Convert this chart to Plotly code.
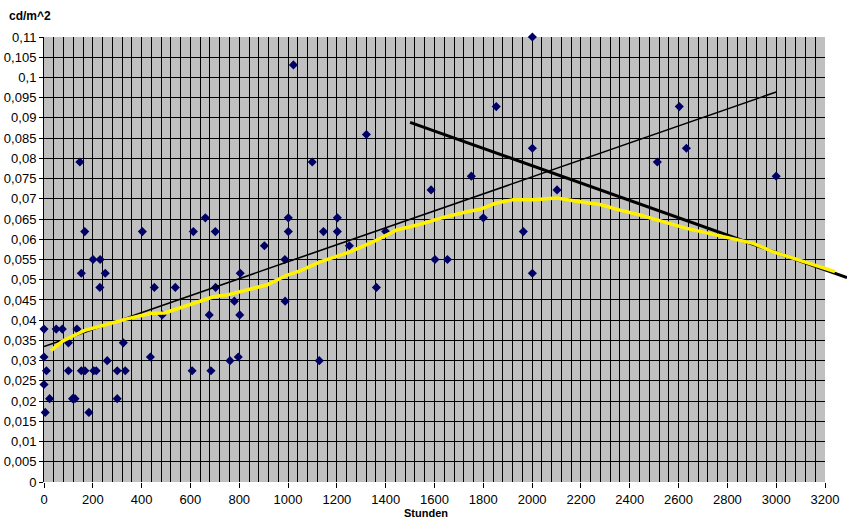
import plotly.graph_objects as go

# Measured points (Stunden, cd/m^2)
hours = [0, 0, 0, 10, 5, 23, 50, 75, 100, 100, 117, 127, 135, 147, 153, 153, 167, 168, 184,
         201, 204, 214, 229, 230, 251, 259, 300, 300, 325, 333, 403, 436, 452, 484, 538,
         607, 612, 661, 677, 684, 702, 703, 762, 780, 796, 802, 804, 903, 987, 988, 1001,
         1001, 1022, 1099, 1128, 1145, 1202, 1202, 1251, 1321, 1362, 1400, 1586, 1602, 1653,
         1751, 1800, 1853, 1964, 2001, 2001, 2001, 2102, 2513, 2603, 2632, 3000]
lum = [0.0378, 0.0309, 0.0241, 0.0275, 0.0172, 0.0206, 0.0378, 0.0378, 0.0344, 0.0275,
       0.0206, 0.0206, 0.0378, 0.0791, 0.0516, 0.0275, 0.0619, 0.0275, 0.0172,
       0.0550, 0.0275, 0.0275, 0.0481, 0.0550, 0.0516, 0.0300, 0.0275, 0.0206, 0.0344,
       0.0275, 0.0619, 0.0309, 0.0481, 0.0413, 0.0481,
       0.0275, 0.0619, 0.0653, 0.0413, 0.0275, 0.0619, 0.0481, 0.0300, 0.0447, 0.0309,
       0.0413, 0.0516, 0.0584, 0.0550, 0.0447, 0.0653,
       0.0619, 0.1031, 0.0791, 0.0300, 0.0619, 0.0653, 0.0619, 0.0584, 0.0859, 0.0481,
       0.0619, 0.0722, 0.0550, 0.0550,
       0.0756, 0.0653, 0.0928, 0.0619, 0.1100, 0.0825, 0.0516, 0.0722, 0.0791, 0.0928,
       0.0825, 0.0756]

# Moving-average style curve (yellow)
avg_x = [28, 78, 112, 167, 249, 331, 440, 494, 580, 694, 748, 830, 912, 994, 1049, 1131,
         1254, 1363, 1445, 1541, 1636, 1732, 1786, 1850, 1923, 2005, 2101, 2196, 2278, 2360,
         2442, 2551, 2633, 2729, 2824, 2906, 2988, 3070, 3152, 3241]
avg_y = [0.0325, 0.0349, 0.0359, 0.0375, 0.0388, 0.0402, 0.0417, 0.0418, 0.0435, 0.0458,
         0.0462, 0.0474, 0.0487, 0.0511, 0.0522, 0.0544, 0.0569, 0.0598, 0.0623, 0.0637,
         0.0654, 0.0668, 0.0674, 0.0689, 0.0698, 0.0698, 0.0702, 0.0693, 0.0686, 0.0672,
         0.0660, 0.0641, 0.0627, 0.0614, 0.0600, 0.0590, 0.0569, 0.0553, 0.0536, 0.0520]

# Linear trend (thin black) and falling trend (thick black)
trend_x = [0, 3000]
trend_y = [0.0335, 0.0964]
fall_x = [1500, 3290]
fall_y = [0.0889, 0.0505]

y_tick_values = [0, 0.005, 0.01, 0.015, 0.02, 0.025, 0.03, 0.035, 0.04, 0.045, 0.05, 0.055,
                 0.06, 0.065, 0.07, 0.075, 0.08, 0.085, 0.09, 0.095, 0.1, 0.105, 0.11]
y_tick_labels = ["0", "0,005", "0,01", "0,015", "0,02", "0,025", "0,03", "0,035", "0,04",
                 "0,045", "0,05", "0,055", "0,06", "0,065", "0,07", "0,075", "0,08", "0,085",
                 "0,09", "0,095", "0,1", "0,105", "0,11"]

FONT = "Liberation Sans, Arial, sans-serif"
X_MAX = 3200
GRID_FRAC = 781 / 803          # grid area share of the full drawing width
X2_MAX = X_MAX / GRID_FRAC     # same scale, area extends past 3200

fig = go.Figure()
fig.add_trace(go.Scatter(x=hours, y=lum, mode="markers", xaxis="x2", yaxis="y2",
                         marker=dict(symbol="diamond", size=7, color="#000066"),
                         cliponaxis=False, showlegend=False))
fig.add_trace(go.Scatter(x=trend_x, y=trend_y, mode="lines", xaxis="x2", yaxis="y2",
                         line=dict(color="black", width=1.6), showlegend=False))
fig.add_trace(go.Scatter(x=fall_x, y=fall_y, mode="lines", xaxis="x2", yaxis="y2",
                         line=dict(color="black", width=3), showlegend=False))
fig.add_trace(go.Scatter(x=avg_x, y=avg_y, mode="lines", xaxis="x2", yaxis="y2",
                         line=dict(color="#FFF200", width=3.5), showlegend=False))

fig.update_layout(
    width=847, height=525,
    margin=dict(l=44, r=0, t=37, b=43),
    paper_bgcolor="white",
    plot_bgcolor="rgba(0,0,0,0)",
    separators=",.",
    font=dict(family=FONT, size=13, color="black"),
    xaxis=dict(domain=[0, GRID_FRAC], range=[0, X_MAX], tick0=0, dtick=200, showgrid=True,
               gridcolor="black", gridwidth=1, zeroline=False, showline=False,
               ticks="outside", ticklen=5, tickcolor="black", automargin=False,
               minor=dict(dtick=40, showgrid=True, gridcolor="black", gridwidth=1),
               anchor="y"),
    yaxis=dict(range=[0, 0.11], tickvals=y_tick_values, ticktext=y_tick_labels,
               showgrid=True, gridcolor="black", gridwidth=1, zeroline=False,
               showline=True, linecolor="black", linewidth=1, ticks="outside", ticklen=4,
               tickcolor="black", automargin=False, anchor="x"),
    xaxis2=dict(domain=[0, 1], range=[0, X2_MAX], visible=False, showgrid=False,
                zeroline=False, anchor="y2"),
    yaxis2=dict(domain=[0, 1], range=[0, 0.11], visible=False, showgrid=False,
                zeroline=False, anchor="x2"),
    shapes=[dict(type="rect", xref="x", yref="y", x0=0, x1=X_MAX, y0=0, y1=0.11,
                 fillcolor="#C0C0C0", line=dict(width=0), layer="below")],
    annotations=[
        dict(text="<b>cd/m^2</b>", xref="paper", yref="paper", x=0, y=1, xanchor="left",
             yanchor="middle", xshift=-37, yshift=21, showarrow=False,
             font=dict(family=FONT, size=12)),
        dict(text="<b>Stunden</b>", xref="x", yref="paper", x=1565, y=0, xanchor="center",
             yanchor="middle", yshift=-31, showarrow=False,
             font=dict(family=FONT, size=11)),
    ],
)

fig.write_html("out.html", config={"displayModeBar": False},
               post_script="document.body.style.margin='0';")
